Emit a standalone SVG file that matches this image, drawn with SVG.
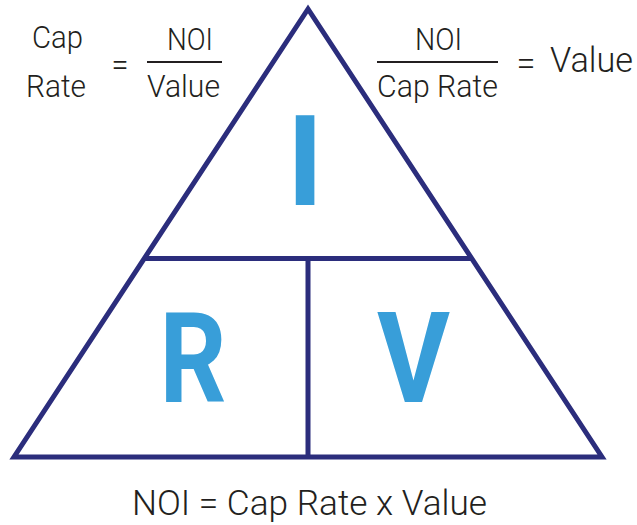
<svg xmlns="http://www.w3.org/2000/svg" width="637" height="525" viewBox="0 0 637 525">
  <style>
    .frame { fill: none; stroke: #2b2d7c; stroke-width: 5; stroke-linejoin: miter; stroke-miterlimit: 10; }
    .rule { stroke: #231f20; stroke-width: 2; }
    .txt { font-family: Roboto, "Liberation Sans", sans-serif; font-weight: 300; fill: #231f20; text-anchor: middle; }
    .s { font-size: 32px; }
    .m { font-size: 35px; }
    .big { font-family: Roboto, "Liberation Sans", sans-serif; font-weight: 700; font-size: 127px; fill: #389ed9; text-anchor: middle; }
  </style>
  <rect width="637" height="525" fill="#ffffff"/>

  <!-- triangle outline and its dividers -->
  <g id="connectors">
    <polygon class="frame" points="308,9 14,457 602,457"/>
    <line class="frame" x1="144" y1="258.5" x2="472" y2="258.5"/>
    <line class="frame" x1="308" y1="258.5" x2="308" y2="457"/>
  </g>

  <g id="node-I">
    <text class="big" x="305" y="205">I</text>
  </g>
  <g id="node-R">
    <text class="big" x="193" y="402" textLength="67" lengthAdjust="spacingAndGlyphs">R</text>
  </g>
  <g id="node-V">
    <text class="big" x="413.5" y="402" textLength="73" lengthAdjust="spacingAndGlyphs">V</text>
  </g>

  <!-- Cap Rate = NOI / Value -->
  <g id="formula-cap-rate">
    <text class="txt s" x="57.5" y="48" textLength="51" lengthAdjust="spacingAndGlyphs">Cap</text>
    <text class="txt s" x="56" y="97" textLength="60" lengthAdjust="spacingAndGlyphs">Rate</text>
    <text class="txt s" x="120" y="75" textLength="17" lengthAdjust="spacingAndGlyphs">=</text>
    <text class="txt s" x="190" y="50" textLength="46" lengthAdjust="spacingAndGlyphs">NOI</text>
    <line class="rule" x1="147" y1="62" x2="222" y2="62"/>
    <text class="txt s" x="183.5" y="97" textLength="73" lengthAdjust="spacingAndGlyphs">Value</text>
  </g>

  <!-- NOI / Cap Rate = Value -->
  <g id="formula-value">
    <text class="txt s" x="438.5" y="50" textLength="47" lengthAdjust="spacingAndGlyphs">NOI</text>
    <line class="rule" x1="377" y1="62" x2="498" y2="62"/>
    <text class="txt s" x="437.5" y="97" textLength="121" lengthAdjust="spacingAndGlyphs">Cap Rate</text>
    <text class="txt m" x="526" y="75" textLength="19" lengthAdjust="spacingAndGlyphs">=</text>
    <text class="txt m" x="591.5" y="72" textLength="83" lengthAdjust="spacingAndGlyphs">Value</text>
  </g>

  <!-- NOI = Cap Rate x Value -->
  <g id="formula-noi">
    <text class="txt m" x="309.5" y="515" textLength="355" lengthAdjust="spacingAndGlyphs">NOI = Cap Rate x Value</text>
  </g>
</svg>
